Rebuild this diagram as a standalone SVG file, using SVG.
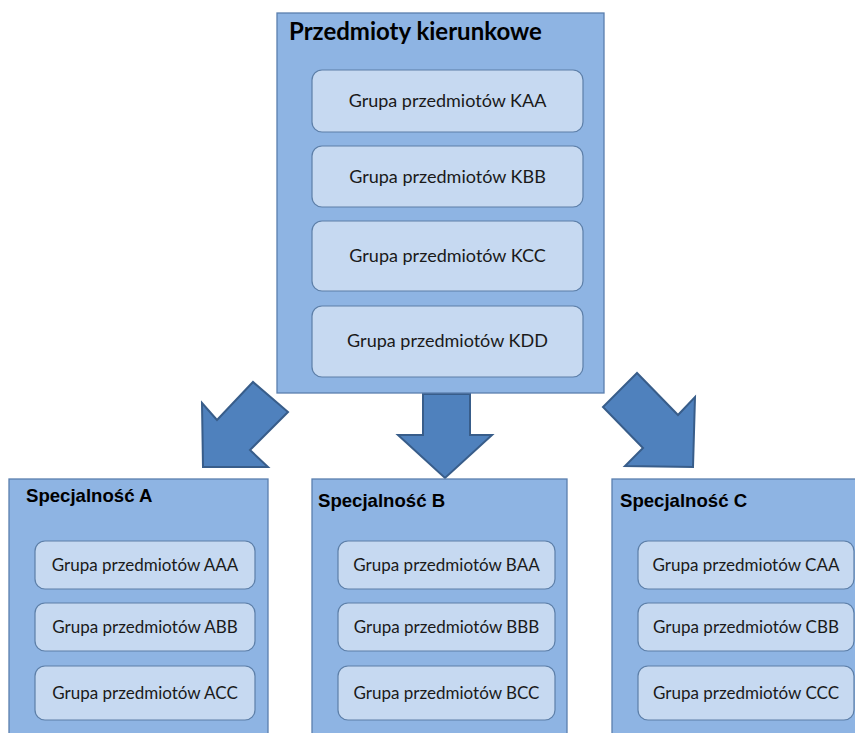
<svg xmlns="http://www.w3.org/2000/svg" width="855" height="733" viewBox="0 0 855 733">
<style>
.outer{fill:#8eb4e3;stroke:#5b7fae;stroke-width:1.3}
.inner{fill:#c6d9f1;stroke:#5d7fa8;stroke-width:1.2}
.arrow{fill:#4f81bd;stroke:#385d8a;stroke-width:2;stroke-linejoin:miter}
.t{font-family:Lato,"Open Sans",sans-serif;font-size:17px;fill:#1a1a1a;text-anchor:middle}
.tk{font-size:18px}
.h1{font-family:Lato,"Open Sans",sans-serif;font-weight:bold;font-size:24px;fill:#000}
.h2{font-family:"Liberation Sans",Arial,sans-serif;font-weight:bold;font-size:18.6px;fill:#000}
</style>
<rect width="855" height="733" fill="#fff"/>
<g id="connectors">
<polygon class="arrow" points="202,403 203,467 268,467 250,450 288,412 253,382 217,420"/>
<polygon class="arrow" points="423,394 470,394 470,435 492,435 445,478 398,435 423,435"/>
<polygon class="arrow" points="637,373 603,407 643,448 625,466 693,467 695,397 678,415"/>
</g>
<g id="kierunkowe">
<rect class="outer" x="277" y="13" width="327" height="380"/>
<text class="h1" x="289" y="40">Przedmioty kierunkowe</text>
</g>
<g id="KAA"><rect class="inner" x="312" y="70" width="271" height="62" rx="10"/><text class="t tk" x="447.5" y="107">Grupa przedmiotów KAA</text></g>
<g id="KBB"><rect class="inner" x="312" y="146" width="271" height="61" rx="10"/><text class="t tk" x="447.5" y="183">Grupa przedmiotów KBB</text></g>
<g id="KCC"><rect class="inner" x="312" y="221" width="271" height="70" rx="10"/><text class="t tk" x="447.5" y="262">Grupa przedmiotów KCC</text></g>
<g id="KDD"><rect class="inner" x="312" y="306" width="271" height="71" rx="10"/><text class="t tk" x="447.5" y="347">Grupa przedmiotów KDD</text></g>

<g id="specA">
<rect class="outer" x="9" y="479" width="259" height="270"/>
<text class="h2" x="26" y="502">Specjalność A</text>
</g>
<g id="AAA"><rect class="inner" x="35" y="541" width="220" height="48" rx="10"/><text class="t" x="145" y="571">Grupa przedmiotów AAA</text></g>
<g id="ABB"><rect class="inner" x="35" y="603" width="220" height="48" rx="10"/><text class="t" x="145" y="633">Grupa przedmiotów ABB</text></g>
<g id="ACC"><rect class="inner" x="35" y="666" width="220" height="54" rx="10"/><text class="t" x="145" y="699">Grupa przedmiotów ACC</text></g>

<g id="specB">
<rect class="outer" x="312" y="479" width="255" height="270"/>
<text class="h2" x="318" y="507">Specjalność B</text>
</g>
<g id="BAA"><rect class="inner" x="338" y="541" width="217" height="48" rx="10"/><text class="t" x="446.5" y="571">Grupa przedmiotów BAA</text></g>
<g id="BBB"><rect class="inner" x="338" y="603" width="217" height="48" rx="10"/><text class="t" x="446.5" y="633">Grupa przedmiotów BBB</text></g>
<g id="BCC"><rect class="inner" x="338" y="666" width="217" height="54" rx="10"/><text class="t" x="446.5" y="699">Grupa przedmiotów BCC</text></g>

<g id="specC">
<rect class="outer" x="612" y="479" width="260" height="270"/>
<text class="h2" x="620" y="507">Specjalność C</text>
</g>
<g id="CAA"><rect class="inner" x="638" y="541" width="216" height="48" rx="10"/><text class="t" x="746" y="571">Grupa przedmiotów CAA</text></g>
<g id="CBB"><rect class="inner" x="638" y="603" width="216" height="48" rx="10"/><text class="t" x="746" y="633">Grupa przedmiotów CBB</text></g>
<g id="CCC"><rect class="inner" x="638" y="666" width="216" height="54" rx="10"/><text class="t" x="746" y="699">Grupa przedmiotów CCC</text></g>
</svg>
